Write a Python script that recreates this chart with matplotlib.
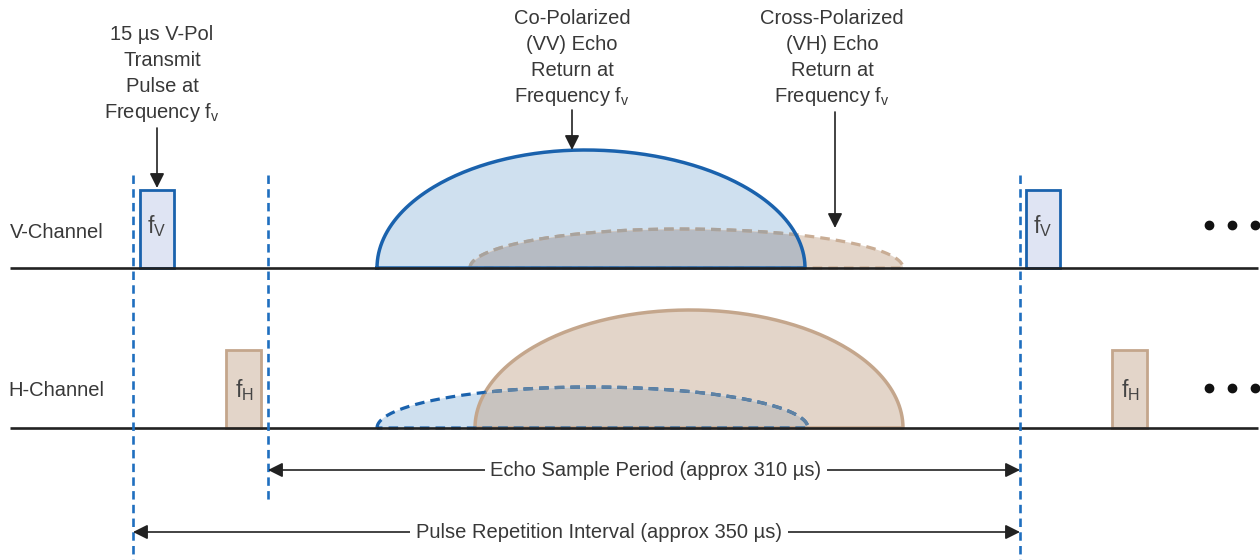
import numpy as np
import matplotlib
matplotlib.use('Agg')
import matplotlib.pyplot as plt
from matplotlib.patches import Polygon, Rectangle

plt.rcParams['font.family'] = ['Liberation Sans', 'DejaVu Sans']
plt.rcParams['mathtext.fontset'] = 'custom'
plt.rcParams['mathtext.rm'] = 'Liberation Sans'
plt.rcParams['mathtext.it'] = 'Liberation Sans'

# Diagram values (drawing units = pixels of the 1260x560 picture)
channels = ['V-Channel', 'H-Channel']
channel_base = [268, 428]          # baseline of each channel
pulse_start_v = [140, 1026]        # V transmit pulses (f_V)
pulse_start_h = [226, 1112]        # H transmit pulses (f_H)
pulse_width = 34
pulse_height = 78
gate_lines = [133, 268, 1020]      # dashed timing markers

# echoes: start, peak, end, height
co_v = [377, 585, 805, 118]        # co-pol (VV) on V channel
cross_v = [470, 680, 903, 39]      # cross-pol (VH) on V channel
co_h = [475, 690, 903, 118]        # co-pol on H channel
cross_h = [377, 590, 808, 41]      # cross-pol on H channel

TXT = '#383838'
BLUE = '#1a62ad'
BLUE_FILL = '#cfe0ef'
TAN = '#c4a68c'
TAN_FILL = '#e3d5c9'
FS = 14.5


def echo_outline(p, base, n=200):
    start, peak, end, height = p
    th = np.linspace(np.pi, 0, n)
    a = np.where(th > np.pi / 2, peak - start, end - peak)
    x = peak + a * np.cos(th)
    y = base - height * np.sin(th)
    return np.column_stack([x, y])


def echo_height(p, x):
    start, peak, end, height = p
    h = np.zeros_like(x)
    m = (x >= start) & (x <= peak)
    h[m] = height * np.sqrt(np.clip(1 - ((peak - x[m]) / (peak - start)) ** 2, 0, 1))
    m = (x > peak) & (x <= end)
    h[m] = height * np.sqrt(np.clip(1 - ((x[m] - peak) / (end - peak)) ** 2, 0, 1))
    return h


fig = plt.figure(figsize=(12.6, 5.6), dpi=100)
ax = fig.add_axes([0, 0, 1, 1])
ax.set_xlim(0, 1260)
ax.set_ylim(560, 0)
ax.axis('off')


def draw_channel(solid, dashed, base, solid_edge, solid_fill, dash_edge, dash_mute,
                 dash_fill, overlap_col, solid_on_top):
    ps = echo_outline(solid, base)
    pd = echo_outline(dashed, base)
    # fills
    ax.add_patch(Polygon(ps, closed=True, fc=solid_fill, ec='none', zorder=2))
    ax.add_patch(Polygon(pd, closed=True, fc=dash_fill, ec='none', zorder=2))
    xg = np.linspace(300, 950, 3000)
    hmin = np.minimum(echo_height(solid, xg), echo_height(dashed, xg))
    ax.fill_between(xg, base, base - hmin, where=hmin > 0, color=overlap_col,
                    lw=0, zorder=3)
    # dashed outline, muted where it passes over the other echo
    closed_d = np.vstack([pd, pd[:1]])
    ax.plot(closed_d[:, 0], closed_d[:, 1], color=dash_edge, lw=2.3,
            dashes=(3.0, 1.9), zorder=4 if solid_on_top else 6)
    ln, = ax.plot(closed_d[:, 0], closed_d[:, 1], color=dash_mute, lw=2.3,
                  dashes=(3.0, 1.9), zorder=4.5 if solid_on_top else 6.5)
    clip = Polygon(ps, closed=True, transform=ax.transData)
    ln.set_clip_path(clip)
    closed_s = np.vstack([ps, ps[:1]])
    ax.plot(closed_s[:, 0], closed_s[:, 1], color=solid_edge, lw=2.5,
            zorder=5)


draw_channel(co_v, cross_v, channel_base[0], BLUE, BLUE_FILL, '#c9ad95', '#a8a39e',
             TAN_FILL, '#b6bbc3', True)
draw_channel(co_h, cross_h, channel_base[1], TAN, TAN_FILL, BLUE, '#5f82a3',
             BLUE_FILL, '#c8c3bf', False)

# baselines
for b in channel_base:
    ax.plot([10, 1258], [b, b], color='#222222', lw=1.9, zorder=8, solid_capstyle='butt')

# channel labels
ax.text(10, 232, channels[0], fontsize=FS, color=TXT, va='center', ha='left')
ax.text(8, 390, channels[1], fontsize=FS, color=TXT, va='center', ha='left')

# transmit pulses
for xs in pulse_start_v:
    ax.add_patch(Rectangle((xs, channel_base[0] - pulse_height), pulse_width, pulse_height,
                           fc='#dfe4f3', ec=BLUE, lw=2, zorder=7))
    ax.text(xs + pulse_width / 2, channel_base[0] - 42, r'f$_\mathrm{V}$', fontsize=16.5,
            color='#444444', ha='center', va='center', zorder=9)
for xs in pulse_start_h:
    ax.add_patch(Rectangle((xs, channel_base[1] - pulse_height), pulse_width + 1, pulse_height,
                           fc=TAN_FILL, ec=TAN, lw=2, zorder=7))
    ax.text(xs + pulse_width / 2 + 1, channel_base[1] - 38, r'f$_\mathrm{H}$', fontsize=16.5,
            color='#444444', ha='center', va='center', zorder=9)

# dashed timing markers
ax.plot([gate_lines[0]] * 2, [175, 560], color='#1f6fbf', lw=1.9, dashes=(3.2, 2.0), zorder=9)
ax.plot([gate_lines[1]] * 2, [175, 503], color='#1f6fbf', lw=1.9, dashes=(3.2, 2.0), zorder=9)
ax.plot([gate_lines[2]] * 2, [175, 560], color='#1f6fbf', lw=1.9, dashes=(3.2, 2.0), zorder=9)

# continuation dots
for b in [225, 388]:
    ax.plot([1209, 1232, 1255], [b] * 3, 'o', color='#111111', ms=6, zorder=9)


def stacked_text(x, y0, lines, step=26):
    for i, s in enumerate(lines):
        ax.text(x, y0 + i * step, s, fontsize=FS, color=TXT, ha='center', va='center')


arrow = dict(arrowstyle='-|>', color='#222222', lw=1.2, mutation_scale=22,
             shrinkA=0, shrinkB=0)

stacked_text(162, 35, ['15 µs V-Pol', 'Transmit', 'Pulse at', r'Frequency f$_\mathrm{v}$'])
ax.annotate('', xy=(157, 188), xytext=(157, 128), arrowprops=arrow, zorder=10)

stacked_text(572, 18, ['Co-Polarized', '(VV) Echo', 'Return at', r'Frequency f$_\mathrm{v}$'])
ax.annotate('', xy=(572, 150), xytext=(572, 110), arrowprops=arrow, zorder=10)

stacked_text(832, 18, ['Cross-Polarized', '(VH) Echo', 'Return at', r'Frequency f$_\mathrm{v}$'])
ax.annotate('', xy=(835, 228), xytext=(835, 112), arrowprops=arrow, zorder=10)

# period dimension arrows
dim = dict(arrowstyle='<|-|>', color='#222222', lw=1.2, mutation_scale=22,
           shrinkA=0, shrinkB=0)
ax.annotate('', xy=(268, 470), xytext=(1020, 470), arrowprops=dim, zorder=10)
ax.text(656, 470, 'Echo Sample Period (approx 310 µs)', fontsize=FS, color=TXT,
        ha='center', va='center', zorder=11,
        bbox=dict(fc='white', ec='none', pad=4))
ax.annotate('', xy=(133, 532), xytext=(1020, 532), arrowprops=dim, zorder=10)
ax.text(599, 532, 'Pulse Repetition Interval (approx 350 µs)', fontsize=FS, color=TXT,
        ha='center', va='center', zorder=11,
        bbox=dict(fc='white', ec='none', pad=4))

fig.savefig('out.png', dpi=100)
